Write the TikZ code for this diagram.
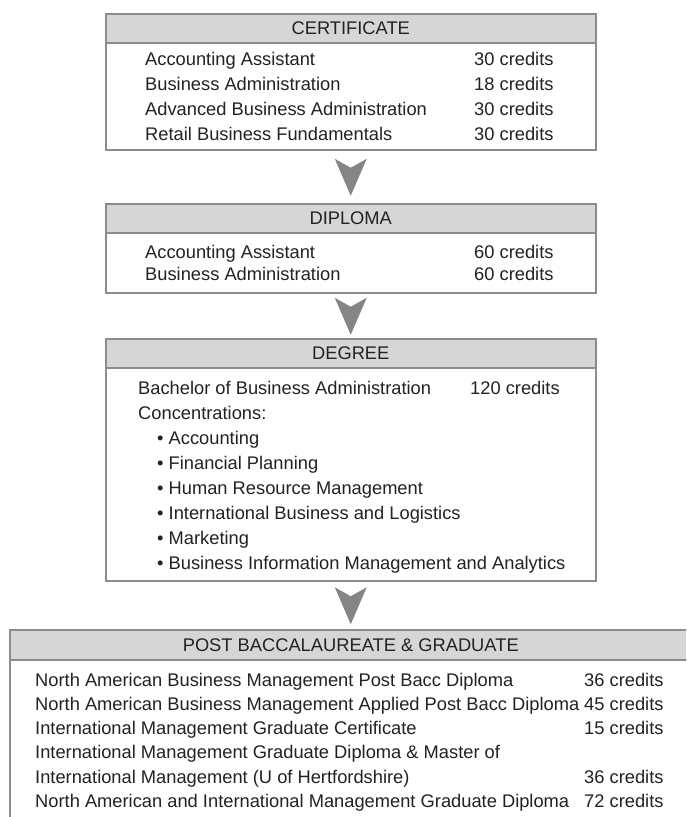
\documentclass[tikz,border=0pt]{standalone}
\usepackage{fontspec}
\setmainfont{Liberation Sans}
\usetikzlibrary{calc}
\definecolor{hdrfill}{HTML}{D6D6D6}
\definecolor{edgegray}{HTML}{8C8C8C}
\definecolor{arrgray}{HTML}{858585}
\definecolor{ink}{HTML}{222222}
\begin{document}
\begin{tikzpicture}[x=1pt,y=-1pt,
  font=\fontsize{18.3}{22}\selectfont, text=ink,
  hdr/.style={draw=edgegray, line width=1.5pt, fill=hdrfill, minimum height=29pt, minimum width=490pt, inner sep=0pt, anchor=north west},
  bodybox/.style={draw=edgegray, line width=1.5pt, fill=white, minimum width=490pt, inner sep=0pt, anchor=north west},
  item/.style={anchor=base west, inner sep=0pt},
  flow/.style={fill=arrgray}]
\clip (0,0) rectangle (686,817);
\fill[white] (0,0) rectangle (686,817);

% Box 1
\node[bodybox, minimum height=107pt] (b1) at (105,42) {};
\node[hdr] (h1) at (105,13) {CERTIFICATE};
\node[item] (c1a) at (145,65) {Accounting Assistant};
\node[item] (c1b) at (145,90) {Business Administration};
\node[item] (c1c) at (145,115) {Advanced Business Administration};
\node[item] (c1d) at (145,140) {Retail Business Fundamentals};
\node[item] (k1a) at (474,65) {30 credits};
\node[item] (k1b) at (474,90) {18 credits};
\node[item] (k1c) at (474,115) {30 credits};
\node[item] (k1d) at (474,140) {30 credits};

% Box 2
\node[bodybox, minimum height=60pt] (b2) at (105,232) {};
\node[hdr] (h2) at (105,203) {DIPLOMA};
\node[item] (c2a) at (145,258) {Accounting Assistant};
\node[item] (c2b) at (145,280) {Business Administration};
\node[item] (k2a) at (474,258) {60 credits};
\node[item] (k2b) at (474,280) {60 credits};

% Box 3
\node[bodybox, minimum height=213pt] (b3) at (105,367) {};
\node[hdr] (h3) at (105,338) {DEGREE};
\node[item] (c3a) at (138,394) {Bachelor of Business Administration};
\node[item] (k3a) at (470,394) {120 credits};
\node[item] (c3b) at (138,419) {Concentrations:};
\node[item] (c3c) at (157,444) {• Accounting};
\node[item] (c3d) at (157,469) {• Financial Planning};
\node[item] (c3e) at (157,494) {• Human Resource Management};
\node[item] (c3f) at (157,519) {• International Business and Logistics};
\node[item] (c3g) at (157,544) {• Marketing};
\node[item] (c3h) at (157,569) {• Business Information Management and Analytics};

% Box 4
\node[bodybox, minimum height=200pt, minimum width=700pt] (b4) at (9,659) {};
\node[hdr, minimum width=700pt, minimum height=30pt] (h4) at (9,629) {\hspace*{-18pt}POST BACCALAUREATE \& GRADUATE};
\node[item] (c4a) at (35,686) {North American Business Management Post Bacc Diploma};
\node[item] (c4b) at (35,710) {North American Business Management Applied Post Bacc Diploma};
\node[item] (c4c) at (35,734) {International Management Graduate Certificate};
\node[item] (c4d) at (35,758) {International Management Graduate Diploma \& Master of};
\node[item] (c4e) at (35,783) {International Management (U of Hertfordshire)};
\node[item] (c4f) at (35,807) {North American and International Management Graduate Diploma};
\node[item] (k4a) at (584,686) {36 credits};
\node[item] (k4b) at (584,710) {45 credits};
\node[item] (k4c) at (584,734) {15 credits};
\node[item] (k4e) at (584,783) {36 credits};
\node[item] (k4f) at (584,807) {72 credits};

% Arrows between boxes
\foreach \a/\b in {b1/h2, b2/h3, b3/h4}{
  \coordinate (m) at ($(\a.south)!0.5!(\a.south |- \b.north)$);
  \fill[flow] ($(m)+(-16,-18)$) -- ($(m)+(0,-9)$) -- ($(m)+(16,-18)$) -- ($(m)+(0,19)$) -- cycle;
}
\end{tikzpicture}
\end{document}
